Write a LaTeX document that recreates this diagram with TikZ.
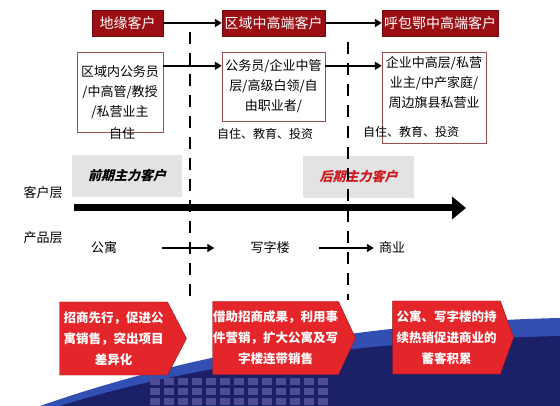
\documentclass[tikz,border=0pt]{standalone}
\usepackage{fontspec}
\setmainfont{Noto Sans CJK SC}
\newfontfamily\slantfont{Noto Sans CJK SC}[FakeSlant=0.25]
\usetikzlibrary{shapes.symbols,arrows.meta,positioning,calc}
\definecolor{hdred}{RGB}{155,15,20}
\definecolor{sigred}{RGB}{228,38,42}
\definecolor{sigedge}{RGB}{150,20,25}
\definecolor{boxedge}{RGB}{150,80,80}
\definecolor{latered}{RGB}{205,25,30}
\definecolor{navy}{RGB}{28,32,105}
\definecolor{swoosh}{RGB}{50,80,180}
\definecolor{tile}{RGB}{80,75,150}
\tikzstyle{header} = [draw=hdred!70!black, fill=hdred, text=white,
    minimum height=26pt, inner sep=0pt, font=\fontsize{14}{16}\selectfont]
\tikzstyle{info} = [draw=boxedge, fill=white, align=center, inner sep=0pt,
    font=\fontsize{13}{20}\selectfont]
\tikzstyle{plain} = [inner sep=0pt, font=\fontsize{13}{15}\selectfont]
\tikzstyle{phase} = [fill=gray!22, minimum height=42pt, inner sep=0pt,
    font=\fontsize{13}{15}\slantfont\bfseries]
\tikzstyle{goal} = [signal, signal to=east, draw=sigedge, fill=sigred, text=white,
    align=center, inner sep=0pt, minimum height=73pt,
    font=\fontsize{12.5}{21}\selectfont\bfseries]
\tikzstyle{connector} = [-{Triangle[length=7pt,width=8pt]}, line width=1.6pt]
\tikzstyle{divider} = [dash pattern=on 12pt off 9pt, line width=2pt]
\tikzstyle{axis} = [-{Triangle[length=14pt,width=22pt]}, line width=7pt]

\begin{document}
\begin{tikzpicture}[x=1pt,y=-1pt]
    \useasboundingbox (0,0) rectangle (560,406);

    % background swoosh
    \fill[swoosh] (40,406) .. controls (200,350) and (380,322) .. (560,318) -- (560,406) -- cycle;
    \fill[navy] (60,406) .. controls (200,362) and (380,340) .. (560,336) -- (560,406) -- cycle;
    \foreach \i in {0,...,12}
        \foreach \j in {0,1,2}
            \fill[tile] (150+\i*14,378+\j*10) rectangle ++(10,7);

    % customer chain
    \node[header, minimum width=71pt] (h1) at (127.5,23) {地缘客户};
    \node[header, minimum width=103pt] (h2) at (273.5,23) {区域中高端客户};
    \node[header, minimum width=116pt] (h3) at (440,23) {呼包鄂中高端客户};

    \node[info, minimum width=86pt, minimum height=80pt] (b1) at (120,92)
        {区域内公务员\\/中高管/教授\\/私营业主};
    \node[info, minimum width=103pt, minimum height=69pt] (b2) at (273.5,86.5)
        {公务员/企业中管\\层/高级白领/自\\由职业者/};
    \node[info, minimum width=104pt, minimum height=91pt] (b3) at (434,97.5)
        {\parbox[c][82pt][t]{100pt}{\centering 企业中高层/私营\\业主/中产家庭/\\周边旗县私营业}};

    \node[plain] (u1) at (122,134) {自住};
    \node[plain, font=\fontsize{12}{14}\selectfont] (u2) at (265,134) {自住、教育、投资};
    \node[plain, font=\fontsize{12}{14}\selectfont] (u3) at (411,132) {自住、教育、投资};

    \draw[connector] (h1) -- (h2);
    \draw[connector] (h2) -- (h3);
    \draw[connector] ([yshift=-14pt]b1.north east) -- ([yshift=-14pt]b2.north west);
    \draw[connector] ([yshift=-14pt]b2.north east) -- ([yshift=-14pt]b3.north west);

    % phases
    \node[phase, minimum width=110pt] (early) at (127,176) {前期主力客户};
    \node[phase, minimum width=111pt, text=latered] (late) at (358.5,177) {后期主力客户};

    \coordinate (d1 top) at (190,32);
    \coordinate (d1 bottom) at (190,298);
    \coordinate (d2 top) at (348,42);
    \coordinate (d2 bottom) at (348,300);
    \draw[divider] (d1 top) -- (d1 bottom);
    \draw[divider] (d2 top) -- (d2 bottom);

    \coordinate (ax start) at (74,208);
    \coordinate (ax end) at (466,208);
    \draw[axis] (ax start) -- (ax end);

    \node[plain] (layer1) at (43,193) {客户层};
    \node[plain] (layer2) at (43,238) {产品层};

    % products
    \node[plain] (p1) at (104,248) {公寓};
    \node[plain] (p2) at (270,248) {写字楼};
    \node[plain] (p3) at (392,248) {商业};
    \draw[connector, line width=1.3pt, shorten <=45pt, shorten >=36pt] (p1) -- (p2);
    \draw[connector, line width=1.3pt, shorten <=29pt, shorten >=5pt] (p2) -- (p3);

    % strategies
    \node[goal, minimum width=127pt, signal pointer angle=125] (g1) at (113.5,338.5)
        {招商先行，促进公\\寓销售，突出项目\\差异化};
    \node[goal, minimum width=143pt, signal pointer angle=130] (g2) at (275.5,338)
        {借助招商成果，利用事\\件营销，扩大公寓及写\\字楼连带销售};
    \node[goal, minimum width=121pt, signal pointer angle=140] (g3) at (446.5,337.5)
        {公寓、写字楼的持\\续热销促进商业的\\蓄客积累};
\end{tikzpicture}
\end{document}
